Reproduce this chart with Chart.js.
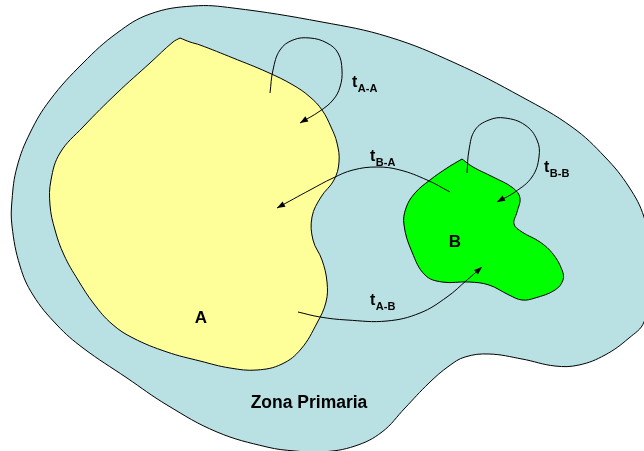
<!DOCTYPE html>
<html lang="es">
<head>
<meta charset="UTF-8">
<title>Zona Primaria</title>
<script src="https://cdn.jsdelivr.net/npm/chart.js"></script>
<style>
  html, body { margin: 0; padding: 0; background: #fff; }
  canvas { display: block; }
</style>
</head>
<body>
<canvas id="zoneChart" width="644" height="451"></canvas>
<script>
// outlines, [x, y] in picture units (y down)
const zonaPrimaria = [
  [656, 270], [644, 322], [629, 338], [605, 355], [579, 365], [555, 366], [522, 359],
  [489, 354], [465, 357], [449, 366], [429, 383], [405, 408], [382, 432], [355, 446],
  [322, 452], [295, 451], [267, 447], [217, 432], [167, 405], [127, 378], [83, 348],
  [57, 325], [33, 295], [20, 266], [12, 226], [12, 200], [17, 167], [30, 133], [50, 100],
  [83, 63], [117, 33], [150, 14], [193, 6], [233, 8], [322, 22], [389, 37], [455, 63],
  [522, 97], [572, 127], [605, 157], [629, 187], [644, 217], [656, 270]
];
const zonaA = [
  [180, 38], [190, 42], [200, 45], [233, 58], [267, 72], [293, 85], [310, 97], [322, 110],
  [331, 127], [337, 143], [339, 162], [334, 180], [321, 197], [312, 217], [313, 240],
  [322, 260], [327, 282], [326, 302], [317, 323], [301, 349], [282, 364], [257, 370],
  [230, 368], [200, 361], [167, 352], [133, 338], [112, 324], [94, 304], [78, 280],
  [64, 255], [55, 230], [50, 205], [51, 180], [60, 153], [83, 127], [117, 93], [150, 63],
  [173, 42], [180, 38]
];
const zonaB = [
  [462, 159], [473, 167], [493, 177], [513, 188], [520, 198], [517, 212], [514, 224],
  [522, 232], [540, 242], [553, 254], [562, 270], [563, 280], [555, 290], [535, 298],
  [522, 300], [509, 295], [489, 285], [469, 282], [442, 282], [425, 275], [412, 252],
  [404, 225], [406, 208], [415, 193], [430, 180], [447, 168], [462, 159]
];
// flows
const flujoAA = [[270, 93], [273, 70], [280, 50], [293, 40], [310, 38], [327, 43], [338, 53],
  [342, 70], [340, 87], [333, 100], [320, 111], [300, 123]];
const flujoBB = [[467, 173], [469, 150], [475, 130], [489, 120], [505, 118], [525, 125],
  [537, 140], [539, 157], [532, 177], [515, 192], [497, 202]];
const flujoBA = [[450, 192], [427, 180], [400, 170], [377, 167], [353, 170], [333, 178],
  [310, 190], [277, 208]];
const flujoAB = [[298, 312], [320, 317], [347, 320], [387, 321], [420, 313], [447, 297],
  [467, 280], [482, 267]];

// labels: text, subscript, anchor (left, baseline)
const etiquetas = [
  ['t', 'A-A', [352, 87]],
  ['t', 'B-A', [370, 161]],
  ['t', 'B-B', [544, 172]],
  ['t', 'A-B', [370, 305]]
];
const nombres = [
  ['A', [201, 318]],
  ['B', [455, 242]],
  ['Zona Primaria', [309, 403]]
];

const pts = arr => arr.map(p => ({ x: p[0], y: p[1] }));

function area(data, color, order) {
  return {
    data: pts(data),
    showLine: true,
    fill: 'shape',
    backgroundColor: color,
    borderColor: '#000',
    borderWidth: 1,
    tension: 0.4,
    pointRadius: 0,
    order: order
  };
}

function flujo(data) {
  return {
    data: pts(data),
    showLine: true,
    fill: false,
    borderColor: '#000',
    borderWidth: 1,
    tension: 0.4,
    pointRadius: 0,
    order: 1,
    arrow: true
  };
}

// arrow heads at the end of each flow, aligned with the last curve segment
const flechas = {
  id: 'flechas',
  afterDatasetsDraw(chart) {
    const ctx = chart.ctx;
    chart.data.datasets.forEach((ds, i) => {
      if (!ds.arrow) return;
      const els = chart.getDatasetMeta(i).data;
      const end = els[els.length - 1];
      const px = end.cp1x !== undefined ? end.cp1x : els[els.length - 2].x;
      const py = end.cp1y !== undefined ? end.cp1y : els[els.length - 2].y;
      const a = Math.atan2(end.y - py, end.x - px);
      const len = 8, half = 3;
      ctx.save();
      ctx.translate(end.x, end.y);
      ctx.rotate(a);
      ctx.beginPath();
      ctx.moveTo(0, 0);
      ctx.lineTo(-len, -half);
      ctx.lineTo(-len, half);
      ctx.closePath();
      ctx.fillStyle = '#000';
      ctx.fill();
      ctx.restore();
    });
  }
};

const textos = {
  id: 'textos',
  afterDraw(chart) {
    const ctx = chart.ctx;
    const sx = chart.scales.x, sy = chart.scales.y;
    ctx.save();
    ctx.fillStyle = '#000';
    ctx.textBaseline = 'alphabetic';
    etiquetas.forEach(([t, sub, p]) => {
      const x = sx.getPixelForValue(p[0]);
      const y = sy.getPixelForValue(p[1]);
      ctx.textAlign = 'left';
      ctx.font = 'bold 16px "Liberation Sans", Arial, sans-serif';
      ctx.fillText(t, x, y);
      const w = ctx.measureText(t).width;
      ctx.font = 'bold 11px "Liberation Sans", Arial, sans-serif';
      ctx.fillText(sub, x + w + 0.5, y + 5);
    });
    ctx.textAlign = 'center';
    ctx.textBaseline = 'middle';
    nombres.forEach(([t, p]) => {
      ctx.font = t.length > 1
        ? 'bold 17.5px "Liberation Sans", Arial, sans-serif'
        : 'bold 17px "Liberation Sans", Arial, sans-serif';
      ctx.fillText(t, sx.getPixelForValue(p[0]), sy.getPixelForValue(p[1]));
    });
    ctx.restore();
  }
};

new Chart(document.getElementById('zoneChart'), {
  type: 'scatter',
  data: {
    datasets: [
      area(zonaPrimaria, '#b9e0e3', 3),
      area(zonaA, '#ffff99', 2),
      area(zonaB, '#00ff00', 2),
      flujo(flujoAA),
      flujo(flujoBB),
      flujo(flujoBA),
      flujo(flujoAB)
    ]
  },
  options: {
    responsive: false,
    animation: false,
    layout: { padding: 0 },
    elements: { line: { capBezierPoints: false } },
    scales: {
      x: { type: 'linear', min: 0, max: 644, display: false },
      y: { type: 'linear', min: 0, max: 451, reverse: true, display: false }
    },
    plugins: {
      legend: { display: false },
      tooltip: { enabled: false }
    }
  },
  plugins: [flechas, textos]
});
</script>
</body>
</html>
